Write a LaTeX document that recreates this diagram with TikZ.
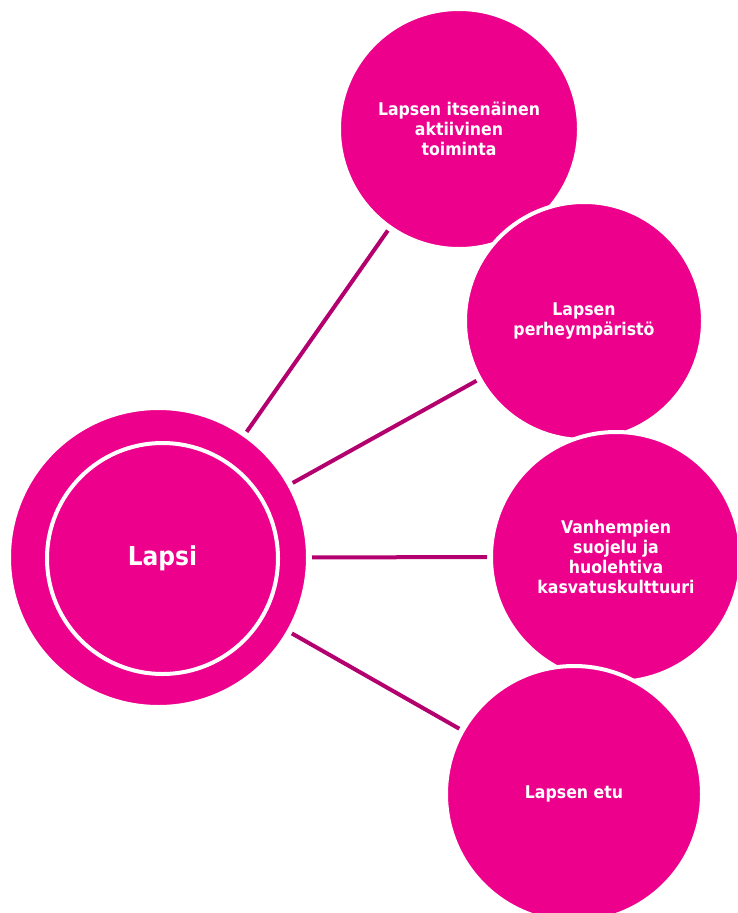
\documentclass[tikz,border=0pt]{standalone}
\usepackage{fontspec}
\setmainfont{DejaVu Sans Condensed}
\definecolor{mag}{RGB}{236,0,140}
\definecolor{linkc}{RGB}{180,0,110}
\begin{document}
\begin{tikzpicture}[x=1pt,y=-1pt,
  bub/.style={circle, fill=mag, draw=white, line width=4pt, inner sep=0pt, outer sep=0pt,
    text=white, font=\bfseries\fontsize{17.5}{20}\selectfont, align=center},
  ring/.style={circle, draw=white, line width=4pt, inner sep=0pt, outer sep=0pt,
    text=white, font=\bfseries\fontsize{26}{30}\selectfont},
  link/.style={draw=linkc, line width=4pt, shorten <=4pt, shorten >=4pt}]
\useasboundingbox (0,0) rectangle (737,913);
\clip (0,0) rectangle (737,913);
\node[bub, minimum size=299pt] (c) at (158.5,557.5) {};
\node[ring, minimum size=231pt] (cin) at (162.5,558.5) {Lapsi};
\node[bub, minimum size=240pt] (a) at (459,129) {Lapsen itsenäinen\\aktiivinen\\toiminta};
\node[bub, minimum size=238pt] (b) at (584,321) {Lapsen\\perheympäristö};
\node[bub, minimum size=250pt] (d) at (616,557) {Vanhempien\\suojelu ja\\huolehtiva\\kasvatuskulttuuri};
\node[bub, minimum size=256pt] (e) at (574,794) {Lapsen etu};
\draw[link] (c) -- (a);
\draw[link] (c) -- (b);
\draw[link] (c) -- (d);
\draw[link] (c) -- (e);
\end{tikzpicture}
\end{document}
